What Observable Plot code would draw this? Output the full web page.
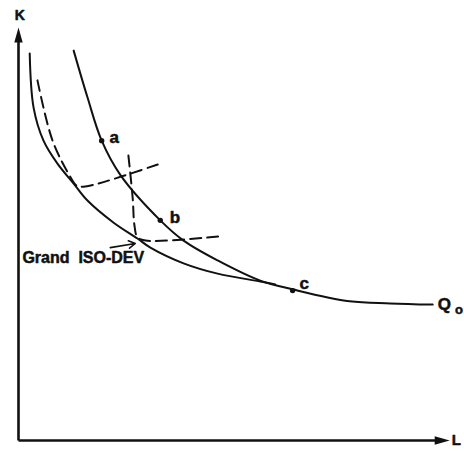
<!DOCTYPE html>
<html>
<head>
<meta charset="utf-8">
<script src="https://cdn.jsdelivr.net/npm/d3@7"></script>
<script src="https://cdn.jsdelivr.net/npm/@observablehq/plot@0.6"></script>
<style>
  html, body { margin: 0; padding: 0; background: #fff; }
</style>
</head>
<body>
<div id="chart"></div>
<script>
// Isoquant Q0 (through a, b, c)
const q0L = [12.8, 16.0, 19.3, 23.7, 32.9, 38.3, 46.2, 56.1, 63.6, 76.8, 86.3, 96.1];
const q0K = [94.4, 83.1, 72.6, 64.2, 53.3, 48.4, 43.6, 38.7, 36.6, 33.7, 33.2, 32.9];

// Grand ISO-DEV envelope
const envL = [2.6, 3.5, 5.8, 9.0, 12.8, 16.0, 22.0, 27.6, 30.6, 38.3, 46.2, 56.1, 59.6];
const envK = [93.7, 80.6, 72.6, 67.1, 62.2, 58.1, 52.8, 48.9, 46.7, 42.9, 40.4, 38.5, 37.8];

// Dashed fixed-proportion isoquants
const dash1L = [4.4, 7.9, 12.1, 13.5, 15.5, 33.6];
const dash1K = [87.2, 72.6, 63.7, 61.7, 61.5, 67.3];
const dash2L = [25.5, 26.5, 26.9, 27.6, 29.5, 46.4];
const dash2K = [69.0, 58.6, 52.1, 49.2, 48.4, 49.4];

// Points on Q0
const pointNames = ["a", "b", "c"];
const pointL = [19.3, 32.9, 63.6];
const pointK = [72.6, 53.3, 36.3];
const pointLabelL = [22.2, 36.3, 66.3];
const pointLabelK = [73.3, 54.0, 38.0];

// Text
const envLabel = "Grand\u00a0\u00a0ISO-DEV";
const envLabelPos = [0.9, 44.2];
const arrowFrom = [21.3, 46.7];
const arrowTo = [27.1, 47.7];
const axisNames = ["K", "L"];

const toRows = (xs, ys) => xs.map((x, i) => ({L: x, K: ys[i]}));
const q0 = toRows(q0L, q0K);
const env = toRows(envL, envK);
const dash1 = toRows(dash1L, dash1K);
const dash2 = toRows(dash2L, dash2K);
const pts = pointNames.map((n, i) => ({n, L: pointL[i], K: pointK[i], tl: pointLabelL[i], tk: pointLabelK[i]}));

// Elongated filled arrowhead (tip up)
const headSymbol = {
  draw(context) {
    context.moveTo(0, -7.5);
    context.lineTo(4.2, 7.5);
    context.lineTo(-4.2, 7.5);
    context.closePath();
  }
};

const font = "'Liberation Sans', Arial, Helvetica, sans-serif";
const ink = "#111";
const textStyle = {fontWeight: "bold", fill: ink, stroke: ink, strokeWidth: 0.5};

const chart = Plot.plot({
  width: 464,
  height: 451,
  marginLeft: 18,
  marginRight: 15,
  marginTop: 27,
  marginBottom: 11,
  x: {domain: [0, 100], axis: null},
  y: {domain: [0, 100], axis: null},
  style: {background: "#fff", fontFamily: font},
  marks: [
    // axes
    Plot.link([0], {x1: 0, y1: 0, x2: 0, y2: 97, stroke: ink, strokeWidth: 2.6}),
    Plot.link([0], {x1: 0, y1: 0, x2: 97, y2: 0, stroke: ink, strokeWidth: 2.6}),
    Plot.dot([0], {x: 0, y: 98.2, symbol: headSymbol, fill: ink, stroke: null, r: 5}),
    Plot.dot([0], {x: 98.3, y: 0, symbol: headSymbol, fill: ink, stroke: null, r: 5, rotate: 90}),
    // curves
    Plot.line(env, {x: "L", y: "K", curve: "catmull-rom", stroke: ink, strokeWidth: 2}),
    Plot.line(q0, {x: "L", y: "K", curve: "catmull-rom", stroke: ink, strokeWidth: 2}),
    Plot.line(dash1, {x: "L", y: "K", curve: "catmull-rom", stroke: ink, strokeWidth: 2, strokeDasharray: "11,6"}),
    Plot.line(dash2, {x: "L", y: "K", curve: "catmull-rom", stroke: ink, strokeWidth: 2, strokeDasharray: "11,6"}),
    // points
    Plot.dot(pts, {x: "L", y: "K", r: 2.7, fill: ink, stroke: null}),
    Plot.text(pts, {x: "tl", y: "tk", text: "n", fontSize: 17, textAnchor: "middle", ...textStyle}),
    // annotation arrow
    Plot.arrow([0], {x1: arrowFrom[0], y1: arrowFrom[1], x2: arrowTo[0], y2: arrowTo[1], stroke: ink, strokeWidth: 1.6, headLength: 7, insetStart: 0, insetEnd: 0}),
    Plot.text([envLabel], {x: envLabelPos[0], y: envLabelPos[1], text: d => d, fontSize: 16, textAnchor: "start", letterSpacing: 0.2, ...textStyle}),
    // axis names
    Plot.text([axisNames[0]], {x: 0.3, y: 102.9, text: d => d, fontSize: 14, ...textStyle}),
    Plot.text([axisNames[1]], {x: 100.5, y: 0, text: d => d, fontSize: 15, textAnchor: "start", ...textStyle}),
    // Q0 label
    Plot.text(["Q"], {x: 98.8, y: 32.9, text: d => d, fontSize: 17, ...textStyle}),
    Plot.text(["o"], {x: 102.2, y: 31.6, text: d => d, fontSize: 13, ...textStyle})
  ]
});
document.getElementById("chart").append(chart);
</script>
</body>
</html>
